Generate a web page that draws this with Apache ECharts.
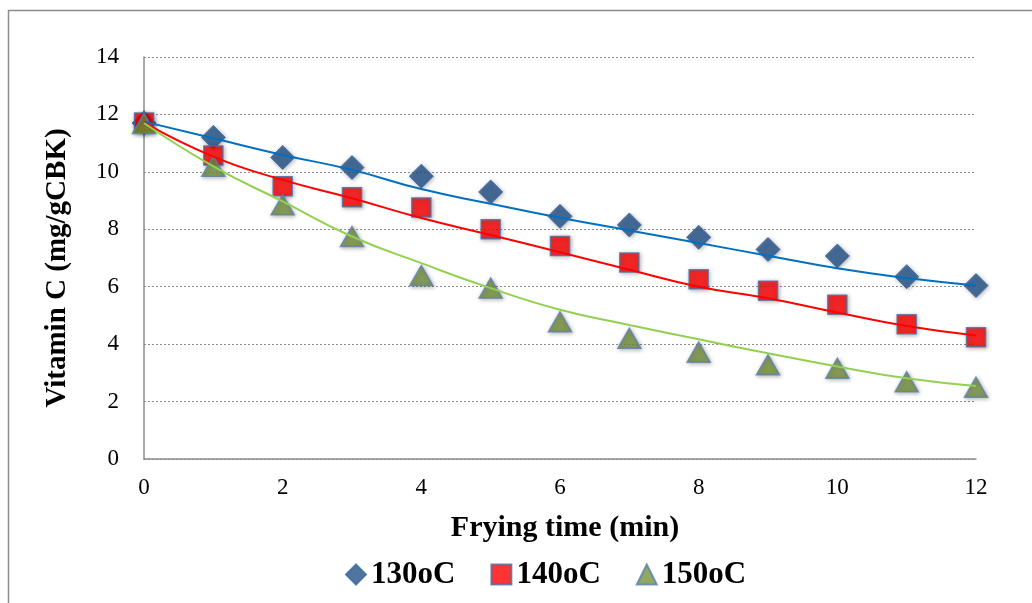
<!DOCTYPE html>
<html>
<head>
<meta charset="utf-8">
<script src="https://cdn.jsdelivr.net/npm/echarts@6/dist/echarts.min.js"></script>
<style>
  html, body { margin: 0; padding: 0; background: #fff; }
  #chart { width: 1032px; height: 603px; }
</style>
</head>
<body>
<div id="chart"></div>
<script>
// Frying time (min)
const times = [0, 1, 2, 3, 4, 5, 6, 7, 8, 9, 10, 11, 12];

// Measured vitamin C (mg/gCBK) at each frying temperature
const v130 = [11.7, 11.2, 10.5, 10.15, 9.85, 9.3, 8.45, 8.15, 7.72, 7.3, 7.07, 6.35, 6.04];
const v140 = [11.72, 10.57, 9.5, 9.12, 8.76, 8.0, 7.42, 6.84, 6.26, 5.86, 5.37, 4.69, 4.24];
const v150 = [11.68, 10.19, 8.85, 7.75, 6.39, 5.95, 4.78, 4.2, 3.72, 3.28, 3.16, 2.69, 2.5];

// Fitted trend curves
const fit130 = [11.75, 11.17, 10.59, 10.07, 9.4, 8.89, 8.4, 7.96, 7.52, 7.08, 6.64, 6.3, 6.04];
const fit140 = [11.72, 10.53, 9.72, 9.08, 8.39, 7.8, 7.2, 6.59, 6.0, 5.6, 5.1, 4.63, 4.3];
const fit150 = [11.7, 10.19, 8.97, 7.75, 6.82, 5.95, 5.2, 4.67, 4.17, 3.68, 3.22, 2.81, 2.54];

const seriesNames = ['130oC', '140oC', '150oC'];
const yTicks = { min: 0, max: 14, step: 2 };
const xTicks = { min: 0, max: 12, step: 2 };

const pair = (ys) => times.map((t, i) => [t, ys[i]]);

const serif = '"Liberation Serif", "DejaVu Serif", serif';
const markerShadow = { shadowBlur: 4, shadowColor: 'rgba(0,0,0,0.35)', shadowOffsetX: 1, shadowOffsetY: 1 };

const chart = echarts.init(document.getElementById('chart'));
chart.setOption({
  animation: false,
  backgroundColor: '#fff',
  graphic: [{
    type: 'rect',
    shape: { x: 8.5, y: 10.5, width: 1100, height: 700 },
    style: { fill: 'none', stroke: '#8c8c8c', lineWidth: 1.5 },
    silent: true
  }],
  grid: { left: 144, right: 56, top: 57, bottom: 144 },
  legend: {
    left: 340,
    top: 554,
    itemWidth: 20,
    itemHeight: 20,
    itemGap: 35,
    data: seriesNames,
    textStyle: { fontFamily: serif, fontSize: 31, fontWeight: 'bold', color: '#000' }
  },
  xAxis: {
    type: 'value',
    min: xTicks.min, max: xTicks.max, interval: xTicks.step,
    name: 'Frying time (min)',
    nameLocation: 'middle',
    nameGap: 54,
    nameTextStyle: { fontFamily: serif, fontSize: 30, fontWeight: 'bold', color: '#000', padding: [0, 0, 0, 10] },
    axisLine: { lineStyle: { color: '#8c8c8c', width: 1.5 } },
    axisTick: { show: false },
    axisLabel: { fontFamily: serif, fontSize: 23, color: '#000', margin: 17 },
    splitLine: { show: false }
  },
  yAxis: {
    type: 'value',
    min: yTicks.min, max: yTicks.max, interval: yTicks.step,
    name: 'Vitamin C (mg/gCBK)',
    nameLocation: 'middle',
    nameGap: 72,
    nameTextStyle: { fontFamily: serif, fontSize: 29, fontWeight: 'bold', color: '#000', padding: [0, 20, 0, 0] },
    axisLine: { show: true, lineStyle: { color: '#8c8c8c', width: 1.5 } },
    axisTick: { show: false },
    axisLabel: { fontFamily: serif, fontSize: 23, color: '#000', margin: 25 },
    splitLine: { lineStyle: { color: '#8c8c8c', type: [2, 2], width: 1 } }
  },
  series: [
    {
      name: seriesNames[0], type: 'scatter', symbol: 'diamond', symbolSize: [24, 24],
      data: pair(v130), z: 2,
      itemStyle: Object.assign({ color: '#24538A', borderColor: '#3A679E', borderWidth: 1 }, markerShadow)
    },
    {
      name: seriesNames[1], type: 'scatter', symbol: 'rect', symbolSize: [19, 19],
      data: pair(v140), z: 2,
      itemStyle: Object.assign({ color: '#FF0000', borderColor: '#4F6A9E', borderWidth: 1.5 }, markerShadow)
    },
    {
      name: seriesNames[2], type: 'scatter', symbol: 'triangle', symbolSize: [23, 20],
      data: pair(v150), z: 2,
      itemStyle: Object.assign({ color: '#76923C', borderColor: '#5B7FAE', borderWidth: 1.5 }, markerShadow)
    },
    {
      type: 'line', data: pair(fit130), smooth: true, showSymbol: false, silent: true, z: 3,
      lineStyle: { color: '#0070C0', width: 2 }
    },
    {
      type: 'line', data: pair(fit140), smooth: true, showSymbol: false, silent: true, z: 3,
      lineStyle: { color: '#FF0000', width: 2 }
    },
    {
      type: 'line', data: pair(fit150), smooth: true, showSymbol: false, silent: true, z: 3,
      lineStyle: { color: '#92D050', width: 2 }
    }
  ]
});
</script>
</body>
</html>
